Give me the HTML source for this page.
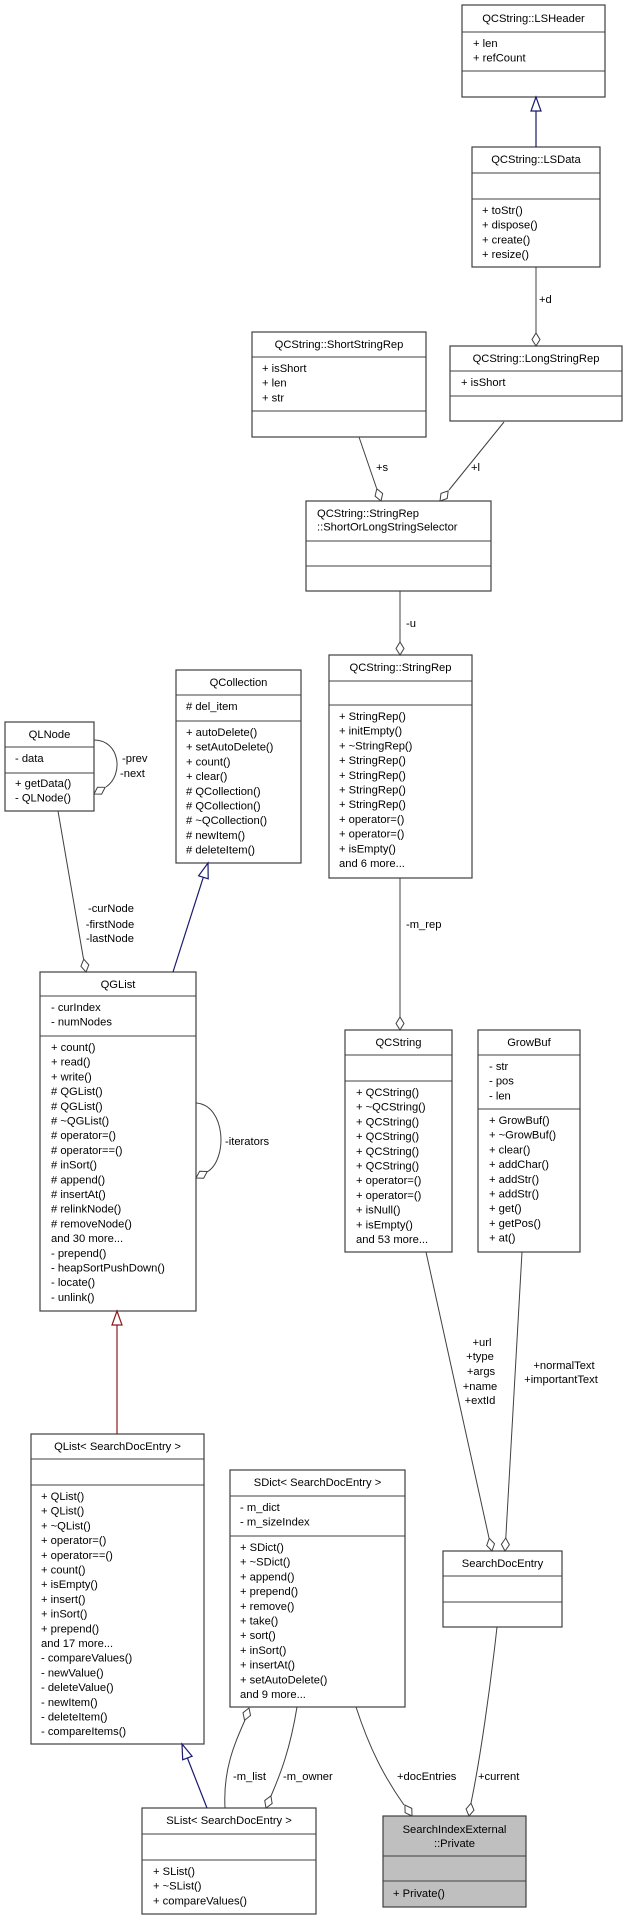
<!DOCTYPE html>
<html><head><meta charset="utf-8"><style>
html,body{margin:0;padding:0;background:#fff;}
svg{display:block;}
text{font-family:"Liberation Sans",sans-serif;font-size:11.2px;fill:#000;}
.b{fill:#fff;stroke:#404040;stroke-width:1.2;}
.l{stroke:#404040;stroke-width:1;fill:none;}
.d{fill:#fff;stroke:#404040;stroke-width:1;}
.n{stroke:#191970;stroke-width:1.2;fill:none;}
.nt{fill:#fff;stroke:#191970;stroke-width:1.2;}
.r{stroke:#8b1a1a;stroke-width:1.2;fill:none;}
.rt{fill:#fff;stroke:#8b1a1a;stroke-width:1.2;}
.m{text-anchor:middle;}
</style></head><body>
<svg width="624" height="1920" viewBox="0 0 624 1920" xmlns="http://www.w3.org/2000/svg">
<defs><polygon id="dm" points="0,0 -4,-6.5 0,-13 4,-6.5" class="d"/></defs>

<!-- LSHeader -->
<rect class="b" x="462" y="5" width="143" height="92"/>
<line class="l" x1="462" y1="32" x2="605" y2="32"/><line class="l" x1="462" y1="71" x2="605" y2="71"/>
<text class="m" x="533.5" y="22">QCString::LSHeader</text>
<text x="473" y="47">+ len</text><text x="473" y="61.7">+ refCount</text>

<!-- LSData -->
<rect class="b" x="472" y="147" width="128" height="120"/>
<line class="l" x1="472" y1="173" x2="600" y2="173"/><line class="l" x1="472" y1="199" x2="600" y2="199"/>
<text class="m" x="536" y="163">QCString::LSData</text>
<text x="482" y="214">+ toStr()</text><text x="482" y="228.7">+ dispose()</text><text x="482" y="243.4">+ create()</text><text x="482" y="258.1">+ resize()</text>

<!-- ShortStringRep -->
<rect class="b" x="252" y="332" width="174" height="105"/>
<line class="l" x1="252" y1="357" x2="426" y2="357"/><line class="l" x1="252" y1="411" x2="426" y2="411"/>
<text class="m" x="339" y="348">QCString::ShortStringRep</text>
<text x="262" y="372">+ isShort</text><text x="262" y="386.7">+ len</text><text x="262" y="401.4">+ str</text>

<!-- LongStringRep -->
<rect class="b" x="450" y="346" width="172" height="75"/>
<line class="l" x1="450" y1="371" x2="622" y2="371"/><line class="l" x1="450" y1="396" x2="622" y2="396"/>
<text class="m" x="536" y="362">QCString::LongStringRep</text>
<text x="461" y="386">+ isShort</text>

<!-- Selector -->
<rect class="b" x="306" y="501" width="185" height="90"/>
<line class="l" x1="306" y1="541" x2="491" y2="541"/><line class="l" x1="306" y1="566" x2="491" y2="566"/>
<text x="317" y="517">QCString::StringRep</text><text x="317" y="530.5">::ShortOrLongStringSelector</text>

<!-- StringRep -->
<rect class="b" x="329" y="655" width="143" height="223"/>
<line class="l" x1="329" y1="681" x2="472" y2="681"/><line class="l" x1="329" y1="705" x2="472" y2="705"/>
<text class="m" x="400.5" y="671">QCString::StringRep</text>
<text x="339" y="720"><tspan x="339">+ StringRep()</tspan><tspan x="339" dy="14.7">+ initEmpty()</tspan><tspan x="339" dy="14.7">+ ~StringRep()</tspan><tspan x="339" dy="14.7">+ StringRep()</tspan><tspan x="339" dy="14.7">+ StringRep()</tspan><tspan x="339" dy="14.7">+ StringRep()</tspan><tspan x="339" dy="14.7">+ StringRep()</tspan><tspan x="339" dy="14.7">+ operator=()</tspan><tspan x="339" dy="14.7">+ operator=()</tspan><tspan x="339" dy="14.7">+ isEmpty()</tspan><tspan x="339" dy="14.7">and 6 more...</tspan></text>

<!-- QCollection -->
<rect class="b" x="176" y="670" width="125" height="193"/>
<line class="l" x1="176" y1="695" x2="301" y2="695"/><line class="l" x1="176" y1="721" x2="301" y2="721"/>
<text class="m" x="238.5" y="686">QCollection</text>
<text x="186" y="710"># del_item</text>
<text x="186" y="736"><tspan x="186">+ autoDelete()</tspan><tspan x="186" dy="14.7">+ setAutoDelete()</tspan><tspan x="186" dy="14.7">+ count()</tspan><tspan x="186" dy="14.7">+ clear()</tspan><tspan x="186" dy="14.7"># QCollection()</tspan><tspan x="186" dy="14.7"># QCollection()</tspan><tspan x="186" dy="14.7"># ~QCollection()</tspan><tspan x="186" dy="14.7"># newItem()</tspan><tspan x="186" dy="14.7"># deleteItem()</tspan></text>

<!-- QLNode -->
<rect class="b" x="5" y="722" width="89" height="89"/>
<line class="l" x1="5" y1="747" x2="94" y2="747"/><line class="l" x1="5" y1="773" x2="94" y2="773"/>
<text class="m" x="49.5" y="738">QLNode</text>
<text x="15" y="762">- data</text>
<text x="15" y="787"><tspan x="15">+ getData()</tspan><tspan x="15" dy="14.7">- QLNode()</tspan></text>

<!-- QGList -->
<rect class="b" x="40" y="972" width="156" height="339"/>
<line class="l" x1="40" y1="996" x2="196" y2="996"/><line class="l" x1="40" y1="1036" x2="196" y2="1036"/>
<text class="m" x="118" y="988">QGList</text>
<text x="51" y="1011"><tspan x="51">- curIndex</tspan><tspan x="51" dy="14.7">- numNodes</tspan></text>
<text x="51" y="1051"><tspan x="51">+ count()</tspan><tspan x="51" dy="14.7">+ read()</tspan><tspan x="51" dy="14.7">+ write()</tspan><tspan x="51" dy="14.7"># QGList()</tspan><tspan x="51" dy="14.7"># QGList()</tspan><tspan x="51" dy="14.7"># ~QGList()</tspan><tspan x="51" dy="14.7"># operator=()</tspan><tspan x="51" dy="14.7"># operator==()</tspan><tspan x="51" dy="14.7"># inSort()</tspan><tspan x="51" dy="14.7"># append()</tspan><tspan x="51" dy="14.7"># insertAt()</tspan><tspan x="51" dy="14.7"># relinkNode()</tspan><tspan x="51" dy="14.7"># removeNode()</tspan><tspan x="51" dy="14.7">and 30 more...</tspan><tspan x="51" dy="14.7">- prepend()</tspan><tspan x="51" dy="14.7">- heapSortPushDown()</tspan><tspan x="51" dy="14.7">- locate()</tspan><tspan x="51" dy="14.7">- unlink()</tspan></text>

<!-- QCString -->
<rect class="b" x="345" y="1030" width="107" height="222"/>
<line class="l" x1="345" y1="1055" x2="452" y2="1055"/><line class="l" x1="345" y1="1081" x2="452" y2="1081"/>
<text class="m" x="398.5" y="1046">QCString</text>
<text x="356" y="1096"><tspan x="356">+ QCString()</tspan><tspan x="356" dy="14.7">+ ~QCString()</tspan><tspan x="356" dy="14.7">+ QCString()</tspan><tspan x="356" dy="14.7">+ QCString()</tspan><tspan x="356" dy="14.7">+ QCString()</tspan><tspan x="356" dy="14.7">+ QCString()</tspan><tspan x="356" dy="14.7">+ operator=()</tspan><tspan x="356" dy="14.7">+ operator=()</tspan><tspan x="356" dy="14.7">+ isNull()</tspan><tspan x="356" dy="14.7">+ isEmpty()</tspan><tspan x="356" dy="14.7">and 53 more...</tspan></text>

<!-- GrowBuf -->
<rect class="b" x="478" y="1030" width="102" height="222"/>
<line class="l" x1="478" y1="1055" x2="580" y2="1055"/><line class="l" x1="478" y1="1109" x2="580" y2="1109"/>
<text class="m" x="529" y="1046">GrowBuf</text>
<text x="489" y="1070"><tspan x="489">- str</tspan><tspan x="489" dy="14.7">- pos</tspan><tspan x="489" dy="14.7">- len</tspan></text>
<text x="489" y="1124"><tspan x="489">+ GrowBuf()</tspan><tspan x="489" dy="14.7">+ ~GrowBuf()</tspan><tspan x="489" dy="14.7">+ clear()</tspan><tspan x="489" dy="14.7">+ addChar()</tspan><tspan x="489" dy="14.7">+ addStr()</tspan><tspan x="489" dy="14.7">+ addStr()</tspan><tspan x="489" dy="14.7">+ get()</tspan><tspan x="489" dy="14.7">+ getPos()</tspan><tspan x="489" dy="14.7">+ at()</tspan></text>

<!-- QList -->
<rect class="b" x="31" y="1434" width="173" height="310"/>
<line class="l" x1="31" y1="1459" x2="204" y2="1459"/><line class="l" x1="31" y1="1485" x2="204" y2="1485"/>
<text class="m" x="117.5" y="1450">QList&lt; SearchDocEntry &gt;</text>
<text x="41" y="1500"><tspan x="41">+ QList()</tspan><tspan x="41" dy="14.7">+ QList()</tspan><tspan x="41" dy="14.7">+ ~QList()</tspan><tspan x="41" dy="14.7">+ operator=()</tspan><tspan x="41" dy="14.7">+ operator==()</tspan><tspan x="41" dy="14.7">+ count()</tspan><tspan x="41" dy="14.7">+ isEmpty()</tspan><tspan x="41" dy="14.7">+ insert()</tspan><tspan x="41" dy="14.7">+ inSort()</tspan><tspan x="41" dy="14.7">+ prepend()</tspan><tspan x="41" dy="14.7">and 17 more...</tspan><tspan x="41" dy="14.7">- compareValues()</tspan><tspan x="41" dy="14.7">- newValue()</tspan><tspan x="41" dy="14.7">- deleteValue()</tspan><tspan x="41" dy="14.7">- newItem()</tspan><tspan x="41" dy="14.7">- deleteItem()</tspan><tspan x="41" dy="14.7">- compareItems()</tspan></text>

<!-- SDict -->
<rect class="b" x="230" y="1470" width="175" height="237"/>
<line class="l" x1="230" y1="1496" x2="405" y2="1496"/><line class="l" x1="230" y1="1536" x2="405" y2="1536"/>
<text class="m" x="317.5" y="1486">SDict&lt; SearchDocEntry &gt;</text>
<text x="240" y="1511"><tspan x="240">- m_dict</tspan><tspan x="240" dy="14.7">- m_sizeIndex</tspan></text>
<text x="240" y="1551"><tspan x="240">+ SDict()</tspan><tspan x="240" dy="14.7">+ ~SDict()</tspan><tspan x="240" dy="14.7">+ append()</tspan><tspan x="240" dy="14.7">+ prepend()</tspan><tspan x="240" dy="14.7">+ remove()</tspan><tspan x="240" dy="14.7">+ take()</tspan><tspan x="240" dy="14.7">+ sort()</tspan><tspan x="240" dy="14.7">+ inSort()</tspan><tspan x="240" dy="14.7">+ insertAt()</tspan><tspan x="240" dy="14.7">+ setAutoDelete()</tspan><tspan x="240" dy="14.7">and 9 more...</tspan></text>

<!-- SearchDocEntry -->
<rect class="b" x="443" y="1551" width="119" height="76"/>
<line class="l" x1="443" y1="1576" x2="562" y2="1576"/><line class="l" x1="443" y1="1602" x2="562" y2="1602"/>
<text class="m" x="502.5" y="1567">SearchDocEntry</text>

<!-- SList -->
<rect class="b" x="142" y="1808" width="174" height="106"/>
<line class="l" x1="142" y1="1834" x2="316" y2="1834"/><line class="l" x1="142" y1="1860" x2="316" y2="1860"/>
<text class="m" x="229" y="1824">SList&lt; SearchDocEntry &gt;</text>
<text x="153" y="1875"><tspan x="153">+ SList()</tspan><tspan x="153" dy="14.7">+ ~SList()</tspan><tspan x="153" dy="14.7">+ compareValues()</tspan></text>

<!-- Private -->
<rect x="383" y="1816" width="143" height="91" fill="#bfbfbf" stroke="#404040" stroke-width="1.2"/>
<line class="l" x1="383" y1="1856" x2="526" y2="1856"/><line class="l" x1="383" y1="1881" x2="526" y2="1881"/>
<text class="m" x="454.5" y="1833">SearchIndexExternal</text><text class="m" x="454.5" y="1847">::Private</text>
<text x="393" y="1897">+ Private()</text>

<!-- Edges -->
<line class="n" x1="536" y1="111" x2="536" y2="147"/>
<polygon class="nt" points="536,97 531,111 541,111"/>
<line class="l" x1="536" y1="267" x2="536" y2="333"/>
<use href="#dm" transform="translate(536,346)"/>
<text x="539" y="303">+d</text>

<line class="l" x1="359" y1="437" x2="376.5" y2="488"/>
<use href="#dm" transform="translate(381,501) rotate(-19)"/>
<text x="376" y="471">+s</text>
<line class="l" x1="504" y1="422" x2="449" y2="490"/>
<use href="#dm" transform="translate(440,501) rotate(39)"/>
<text x="471" y="471">+l</text>

<line class="l" x1="400" y1="591" x2="400" y2="642"/>
<use href="#dm" transform="translate(400,655)"/>
<text x="406" y="627">-u</text>

<line class="l" x1="400" y1="878" x2="400" y2="1017"/>
<use href="#dm" transform="translate(400,1030)"/>
<text x="406" y="928">-m_rep</text>

<path class="l" d="M94,740 C120,740 124,775 106,787"/>
<use href="#dm" transform="translate(94,794) rotate(59)"/>
<text x="122" y="762">-prev</text><text x="120" y="777">-next</text>

<line class="l" x1="58" y1="811" x2="83.5" y2="959"/>
<use href="#dm" transform="translate(86,972) rotate(-10)"/>
<text class="m" x="111" y="912">-curNode</text><text class="m" x="110" y="928">-firstNode</text><text class="m" x="110" y="942">-lastNode</text>

<line class="n" x1="173" y1="972" x2="203.4" y2="877"/>
<polygon class="nt" points="208,863 208.2,878.8 198.6,875.8"/>

<path class="l" d="M196,1103 C226,1105 228,1160 207,1172"/>
<use href="#dm" transform="translate(196,1178) rotate(60)"/>
<text x="225" y="1145">-iterators</text>

<line class="r" x1="117" y1="1325" x2="117" y2="1434"/>
<polygon class="rt" points="117,1311 112,1325 122,1325"/>

<line class="l" x1="426" y1="1252" x2="489" y2="1538"/>
<use href="#dm" transform="translate(492,1551) rotate(-12.4)"/>
<text class="m" x="482" y="1346">+url</text><text class="m" x="480" y="1360">+type</text><text class="m" x="481" y="1375">+args</text><text class="m" x="480" y="1390">+name</text><text class="m" x="480" y="1404">+extId</text>
<line class="l" x1="522" y1="1252" x2="505.8" y2="1538"/>
<use href="#dm" transform="translate(505,1551) rotate(3.3)"/>
<text class="m" x="564" y="1369">+normalText</text><text class="m" x="561" y="1383">+importantText</text>

<line class="n" x1="207" y1="1808" x2="187.4" y2="1758"/>
<polygon class="nt" points="182,1744 192.1,1756.2 182.7,1759.8"/>

<path class="l" d="M225,1808 C223,1770 234,1745 245,1720"/>
<use href="#dm" transform="translate(249,1708) rotate(-160)"/>
<text x="233" y="1780">-m_list</text>
<path class="l" d="M297,1707 C290,1750 280,1775 271,1796"/>
<use href="#dm" transform="translate(266,1808) rotate(22)"/>
<text x="283" y="1780">-m_owner</text>

<path class="l" d="M356,1707 C370,1750 385,1778 404,1805"/>
<use href="#dm" transform="translate(412,1816) rotate(-33)"/>
<text x="397" y="1780">+docEntries</text>
<path class="l" d="M497,1627 C490,1690 480,1760 471,1803"/>
<use href="#dm" transform="translate(469,1816) rotate(9)"/>
<text x="478" y="1780">+current</text>
</svg>
</body></html>
